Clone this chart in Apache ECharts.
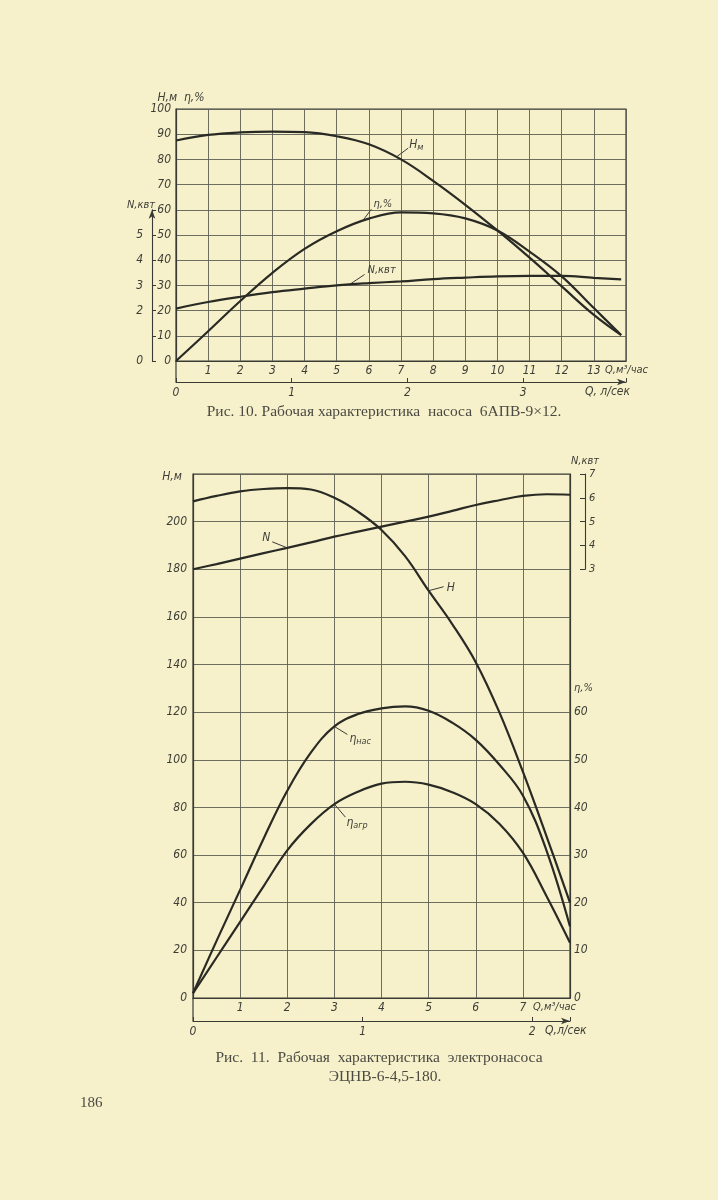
<!DOCTYPE html>
<html>
<head>
<meta charset="utf-8">
<script src="https://cdn.jsdelivr.net/npm/echarts@6/dist/echarts.min.js"></script>
<style>
  html, body { margin: 0; padding: 0; background: #f6f1cb; }
  #c { width: 718px; height: 1200px; }
</style>
</head>
<body>
<div id="c"></div>
<script>
// ---------- Рис. 10: насос 6АПВ-9×12 ----------
const topQ     = [0, 1, 2, 3, 4, 5, 6, 7, 8, 9, 10, 11, 12, 13, 13.85];           // Q, м³/час
const topHead  = [87.5, 89.7, 90.7, 91, 90.8, 89.2, 86, 80, 71.5, 62, 51.8, 41, 29.6, 18.3, 10.3]; // H, м
const topEff   = [0, 11.8, 23.8, 35, 44.5, 51.5, 56.5, 59.0, 58.6, 56.6, 51.8, 43.4, 33.6, 21, 10.3]; // η, %
const topPower = [2.08, 2.34, 2.55, 2.73, 2.87, 3.0, 3.09, 3.16, 3.25, 3.31, 3.36, 3.38, 3.38, 3.3, 3.24]; // N, квт

// ---------- Рис. 11: электронасос ЭЦНВ-6-4,5-180 ----------
const botQ        = [0, 0.5, 1, 1.5, 2, 2.5, 3, 3.5, 4, 4.5, 5, 5.5, 6, 6.5, 7, 7.5, 8];   // Q, м³/час
const botHead     = [208.5, 210.8, 212.7, 213.7, 214.1, 213.5, 210, 204.2, 196.5, 185.5, 171, 157, 141, 120, 95, 68, 40]; // H, м
const botEffPump  = [1, 12, 22.7, 33.5, 43.5, 51.5, 57, 59.6, 60.8, 61.2, 60.3, 57.8, 54.2, 49, 42.5, 31, 15];   // η нас, %
const botEffUnit  = [1, 8.5, 16, 23.5, 31, 36.5, 40.7, 43.3, 45, 45.4, 44.8, 43.2, 40.7, 36.6, 30.5, 21.4, 11.6]; // η агр, %
const botPower    = [3.0, 3.22, 3.45, 3.68, 3.9, 4.13, 4.37, 4.58, 4.79, 5.0, 5.21, 5.45, 5.7, 5.9, 6.08, 6.15, 6.13]; // N, квт

const INK = '#2a2a25';
const TXT = '#3e3e37';
const AX = '#3a3a34';
const F = "'Liberation Sans Narrow', 'DejaVu Sans Condensed', 'Liberation Sans', sans-serif";
const SERIF = "'Liberation Serif', 'DejaVu Serif', serif";

const lab = { fontFamily: F, fontStyle: 'italic', fontSize: 12, color: TXT, hideOverlap: false };
const split = { show: true, lineStyle: { color: '#5e5e54', width: 0.9 } };

function pairs(xs, ys) { return xs.map((x, i) => [x, ys[i]]); }
function curve(data, xi, yi) {
  return { type: 'line', xAxisIndex: xi, yAxisIndex: yi, data: data, smooth: 0.4,
           showSymbol: false, symbol: 'none', silent: true,
           lineStyle: { color: INK, width: 2.2 } };
}
function axLine(extra) {
  return Object.assign({ show: true, onZero: false, lineStyle: { color: AX, width: 1.2 } }, extra || {});
}

const chart = echarts.init(document.getElementById('c'), null, { renderer: 'canvas' });

const option = {
  animation: false,
  backgroundColor: '#f6f1cb',
  grid: [
    { left: 176, top: 109, width: 450, height: 252, show: true, borderColor: AX, borderWidth: 1.2, outerBoundsMode: 'none' },
    { left: 193, top: 474, width: 377, height: 524, show: true, borderColor: AX, borderWidth: 1.2, outerBoundsMode: 'none' },
    { left: 176, top: 209.8, width: 450, height: 151.2, show: false, outerBoundsMode: 'none' },
    { left: 193, top: 474, width: 377, height: 95.3, show: false, outerBoundsMode: 'none' }
  ],
  xAxis: [
    { // 0: top Q м³/час
      type: 'value', gridIndex: 0, min: 0, max: 14, interval: 1,
      axisLine: axLine(), axisTick: { show: false }, splitLine: split,
      axisLabel: Object.assign({}, lab, { margin: 4, formatter: v => (v > 0 && v < 14) ? String(v) : '' })
    },
    { // 1: top Q л/сек
      type: 'value', gridIndex: 0, min: 0, max: 14 / 3.6, interval: 1, offset: 21, position: 'bottom',
      axisLine: axLine({ symbol: ['none', 'arrow'], symbolSize: [5, 9], lineStyle: { color: AX, width: 1.1 } }),
      axisTick: { show: true, inside: true, length: 4, lineStyle: { color: AX } },
      splitLine: { show: false },
      axisLabel: Object.assign({}, lab, { margin: 5, formatter: v => Math.abs(v - Math.round(v)) < 1e-6 ? String(Math.round(v)) : '' })
    },
    { type: 'value', gridIndex: 2, min: 0, max: 14, show: false },   // 2: hidden x for top N
    { // 3: bottom Q м³/час
      type: 'value', gridIndex: 1, min: 0, max: 8, interval: 1,
      axisLine: axLine(), axisTick: { show: false }, splitLine: split,
      axisLabel: Object.assign({}, lab, { margin: 4, formatter: v => (v > 0 && v < 8) ? String(v) : '' })
    },
    { // 4: bottom Q л/сек
      type: 'value', gridIndex: 1, min: 0, max: 8 / 3.6, interval: 1, offset: 23, position: 'bottom',
      axisLine: axLine({ symbol: ['none', 'arrow'], symbolSize: [5, 9], lineStyle: { color: AX, width: 1.1 } }),
      axisTick: { show: true, inside: true, length: 4, lineStyle: { color: AX } },
      splitLine: { show: false },
      axisLabel: Object.assign({}, lab, { margin: 5, formatter: v => Math.abs(v - Math.round(v)) < 1e-6 ? String(Math.round(v)) : '' })
    },
    { type: 'value', gridIndex: 3, min: 0, max: 8, show: false }     // 5: hidden x for bottom N
  ],
  yAxis: [
    { // 0: top H, η
      type: 'value', gridIndex: 0, min: 0, max: 100, interval: 10,
      axisLine: axLine(), axisTick: { show: false }, splitLine: split,
      axisLabel: Object.assign({}, lab, { margin: 5 })
    },
    { // 1: top N, квт (separate scale on the left)
      type: 'value', gridIndex: 2, min: 0, max: 6, interval: 1, position: 'left', offset: 24,
      axisLine: axLine({ symbol: ['none', 'arrow'], symbolSize: [5, 9], lineStyle: { color: AX, width: 1.1 } }),
      axisTick: { show: true, inside: true, length: 4, lineStyle: { color: AX } },
      splitLine: { show: false },
      axisLabel: Object.assign({}, lab, { margin: 9, formatter: v => (v === 1 || v === 6) ? '' : String(v) })
    },
    { // 2: bottom H
      type: 'value', gridIndex: 1, min: 0, max: 220, interval: 20,
      axisLine: axLine(), axisTick: { show: false }, splitLine: split,
      axisLabel: Object.assign({}, lab, { margin: 6, formatter: v => v >= 220 ? '' : String(v) })
    },
    { // 3: bottom η (right)
      type: 'value', gridIndex: 1, min: 0, max: 110, interval: 10, position: 'right',
      axisLine: axLine(), axisTick: { show: false }, splitLine: { show: false },
      axisLabel: Object.assign({}, lab, { margin: 4, formatter: v => v <= 60 ? String(v) : '' })
    },
    { // 4: bottom N, квт (right bracket scale)
      type: 'value', gridIndex: 3, min: 3, max: 7, interval: 1, position: 'right', offset: 15,
      name: 'N,квт', nameLocation: 'end', nameGap: 7,
      nameTextStyle: { fontFamily: F, fontStyle: 'italic', fontSize: 11, color: TXT, align: 'center' },
      axisLine: axLine({ lineStyle: { color: AX, width: 1.1 } }),
      axisTick: { show: true, inside: true, length: 5, lineStyle: { color: AX } },
      splitLine: { show: false },
      axisLabel: Object.assign({}, lab, { fontSize: 11, margin: 4 })
    }
  ],
  series: [
    curve(pairs(topQ, topHead), 0, 0),
    curve(pairs(topQ, topEff), 0, 0),
    curve(pairs(topQ, topPower), 2, 1),
    curve(pairs(botQ, botHead), 3, 2),
    curve(pairs(botQ, botEffPump), 3, 3),
    curve(pairs(botQ, botEffUnit), 3, 3),
    curve(pairs(botQ, botPower), 5, 4)
  ]
};
chart.setOption(option);

// ---------- annotations: curve labels with leader lines, captions ----------
function px(xi, yi, x, y) { return chart.convertToPixel({ xAxisIndex: xi, yAxisIndex: yi }, [x, y]); }
function interp(xs, ys, x) {
  for (let i = 0; i < xs.length - 1; i++) {
    if (x >= xs[i] && x <= xs[i + 1]) { const t = (x - xs[i]) / (xs[i + 1] - xs[i]); return ys[i] + t * (ys[i + 1] - ys[i]); }
  }
  return ys[ys.length - 1];
}
const g = [];
function leader(p, dx, dy) {
  g.push({ type: 'line', silent: true, shape: { x1: p[0], y1: p[1], x2: p[0] + dx, y2: p[1] + dy },
           style: { stroke: AX, lineWidth: 1 } });
}
function txt(x, y, text, opts) {
  const o = Object.assign({ size: 12, align: 'left', font: F, italic: true, fill: TXT, rich: null }, opts || {});
  const style = { text: text, x: 0, y: 0, fill: o.fill,
                  fontFamily: o.font, fontSize: o.size, fontStyle: o.italic ? 'italic' : 'normal',
                  textAlign: o.align, align: o.align, textVerticalAlign: 'middle', verticalAlign: 'middle' };
  if (o.rich) style.rich = o.rich;
  g.push({ type: 'text', x: x, y: y, silent: true, style: style });
}
const subRich = { a: { fontFamily: F, fontStyle: 'italic', fontSize: 12, fill: TXT, color: TXT },
                  s: { fontFamily: F, fontStyle: 'italic', fontSize: 9, fill: TXT, color: TXT, padding: [6, 0, 0, 0] } };

// top chart labels
let p = px(0, 0, 6.85, interp(topQ, topHead, 6.85)); leader(p, 12, -9);
txt(p[0] + 13, p[1] - 12, '{a|H}{s|м}', { rich: subRich });
p = px(0, 0, 5.8, interp(topQ, topEff, 5.8)); leader(p, 9, -12);
txt(p[0] + 11, p[1] - 17, 'η,%', { size: 11 });
p = px(2, 1, 5.4, interp(topQ, topPower, 5.4)); leader(p, 15, -10);
txt(p[0] + 18, p[1] - 14, 'N,квт', { size: 11 });

// bottom chart labels
p = px(5, 4, 2.0, interp(botQ, botPower, 2.0)); leader(p, -15, -6);
txt(p[0] - 17, p[1] - 10, 'N', { size: 12, align: 'right' });
p = px(3, 2, 5.0, interp(botQ, botHead, 5.0)); leader(p, 15, -4);
txt(p[0] + 18, p[1] - 3, 'H', { size: 12 });
p = px(3, 3, 3.0, interp(botQ, botEffPump, 3.0)); leader(p, 13, 8);
txt(p[0] + 15, p[1] + 12, '{a|η}{s|нас}', { rich: subRich });
p = px(3, 3, 3.0, interp(botQ, botEffUnit, 3.0)); leader(p, 11, 13);
txt(p[0] + 12, p[1] + 19, '{a|η}{s|агр}', { rich: subRich });

// axis names / extra text
txt(181, 98, 'H,м  η,%', { size: 12, align: 'center' });
txt(155, 205, 'N,квт', { size: 11, align: 'right' });
txt(605, 370, 'Q,м³/час', { size: 11 });
txt(585, 392, 'Q, л/сек', { size: 12 });
txt(533, 1007, 'Q,м³/час', { size: 11 });
txt(545, 1031, 'Q,л/сек', { size: 12 });
txt(172, 477, 'H,м', { size: 12, align: 'center' });
txt(574, 688, 'η,%', { size: 11 });

// frame extensions down to the second Q axis
g.push({ type: 'line', silent: true, shape: { x1: 176, y1: 361, x2: 176, y2: 382 }, style: { stroke: AX, lineWidth: 1.2 } });
g.push({ type: 'line', silent: true, shape: { x1: 193, y1: 998, x2: 193, y2: 1021 }, style: { stroke: AX, lineWidth: 1.2 } });

// captions
txt(384, 412, 'Рис. 10. Рабочая характеристика  насоса  6АПВ-9×12.', { font: SERIF, italic: false, size: 15.5, align: 'center', fill: '#4a4a42' });
txt(379, 1058, 'Рис.  11.  Рабочая  характеристика  электронасоса', { font: SERIF, italic: false, size: 15.5, align: 'center', fill: '#4a4a42' });
txt(385, 1077, 'ЭЦНВ-6-4,5-180.', { font: SERIF, italic: false, size: 15.5, align: 'center', fill: '#4a4a42' });
txt(80, 1103, '186', { font: SERIF, italic: false, size: 15, align: 'left', fill: '#4a4a42' });

chart.setOption({ graphic: { elements: g } });
</script>
</body>
</html>
